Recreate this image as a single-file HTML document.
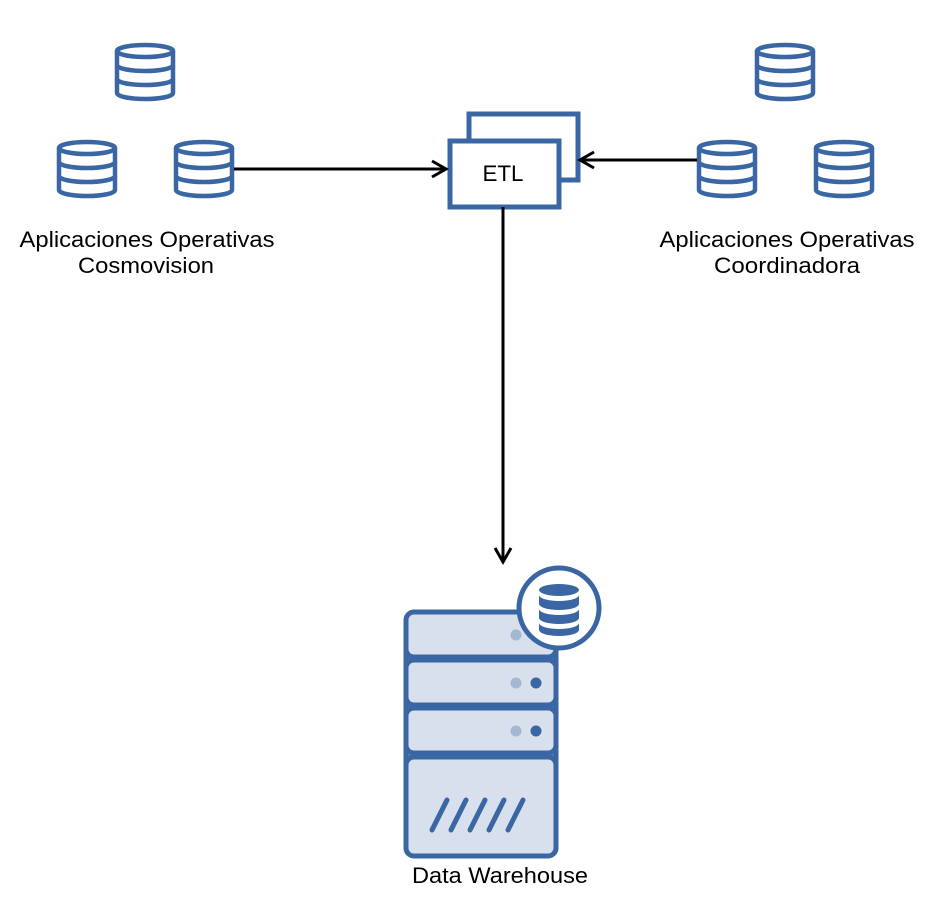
<!DOCTYPE html>
<html><head><meta charset="utf-8"><style>html,body{margin:0;padding:0;background:#fff}svg{display:block}</style></head>
<body>
<svg width="938" height="900" viewBox="0 0 938 900" xmlns="http://www.w3.org/2000/svg">
<defs>
<g id="db" fill="none" stroke="#3a67a3" stroke-width="4.5">
<path d="M2,8 A28,6 0 0 1 58,8 V50 A28,6 0 0 1 2,50 Z" fill="#fff"/>
<path d="M2,8 A28,6 0 0 0 58,8"/>
<path d="M2,22 A28,6 0 0 0 58,22"/>
<path d="M2,36 A28,6 0 0 0 58,36"/>
</g>
</defs>
<use href="#db" x="115" y="43"/>
<use href="#db" x="57" y="140"/>
<use href="#db" x="174" y="140"/>
<use href="#db" x="755" y="43"/>
<use href="#db" x="697" y="140"/>
<use href="#db" x="814" y="140"/>

<g font-family="Liberation Sans, Arial, sans-serif" font-size="22" fill="#000" text-anchor="middle" lengthAdjust="spacingAndGlyphs">
<text x="147" y="247" textLength="255" lengthAdjust="spacingAndGlyphs">Aplicaciones Operativas</text>
<text x="146" y="273" textLength="136" lengthAdjust="spacingAndGlyphs">Cosmovision</text>
<text x="787" y="247" textLength="255" lengthAdjust="spacingAndGlyphs">Aplicaciones Operativas</text>
<text x="787" y="273" textLength="146" lengthAdjust="spacingAndGlyphs">Coordinadora</text>
<text x="500" y="883" textLength="176" lengthAdjust="spacingAndGlyphs">Data Warehouse</text>
</g>

<!-- ETL -->
<rect x="469" y="114" width="109" height="66" fill="#fff" stroke="#3a67a3" stroke-width="5"/>
<rect x="450" y="141" width="109" height="66" fill="#fff" stroke="#3a67a3" stroke-width="5"/>
<text x="503" y="181" font-family="Liberation Sans, Arial, sans-serif" font-size="22" text-anchor="middle" textLength="41" lengthAdjust="spacingAndGlyphs">ETL</text>

<!-- arrows -->
<g stroke="#000" stroke-width="3" fill="none">
<line x1="234" y1="169" x2="446" y2="169"/>
<polyline points="432,161 446,169 432,177"/>
<line x1="697" y1="160" x2="580" y2="160"/>
<polyline points="594,152 580,160 594,168"/>
<line x1="503" y1="207" x2="503" y2="562"/>
<polyline points="495,548 503,562 511,548"/>
</g>

<!-- server -->
<g stroke="#3a67a3" stroke-width="5">
<rect x="406" y="612" width="150" height="244" rx="9" fill="#6b8bb9"/>
<rect x="406" y="612" width="150" height="45" rx="8" fill="#d7e0ec"/>
<rect x="406" y="660" width="150" height="45" rx="8" fill="#d7e0ec"/>
<rect x="406" y="708" width="150" height="45" rx="8" fill="#d7e0ec"/>
<rect x="406" y="757" width="150" height="99" rx="8" fill="#d7e0ec"/>
</g>
<g fill="#a3b7d3"><circle cx="516" cy="635" r="5.5"/><circle cx="516" cy="683" r="5.5"/><circle cx="516" cy="731" r="5.5"/></g>
<g fill="#3a67a3"><circle cx="536" cy="683" r="5.5"/><circle cx="536" cy="731" r="5.5"/></g>
<g stroke="#3a67a3" stroke-width="5" stroke-linecap="round">
<line x1="432" y1="830" x2="447" y2="800"/>
<line x1="451" y1="830" x2="466" y2="800"/>
<line x1="470" y1="830" x2="485" y2="800"/>
<line x1="489" y1="830" x2="504" y2="800"/>
<line x1="508" y1="830" x2="523" y2="800"/>
</g>
<circle cx="559" cy="608" r="40" fill="#fff" stroke="#3a67a3" stroke-width="5"/>
<g fill="#3a67a3">
<ellipse cx="559" cy="590" rx="20" ry="6"/>
<path d="M539,595 A20,6 0 0 0 579,595 V604 A20,6 0 0 1 539,604 Z"/>
<path d="M539,609 A20,6 0 0 0 579,609 V618 A20,6 0 0 1 539,618 Z"/>
<path d="M539,623 A20,6 0 0 0 579,623 V630 A20,6 0 0 1 539,630 Z"/>
</g>
</svg>
</body></html>
